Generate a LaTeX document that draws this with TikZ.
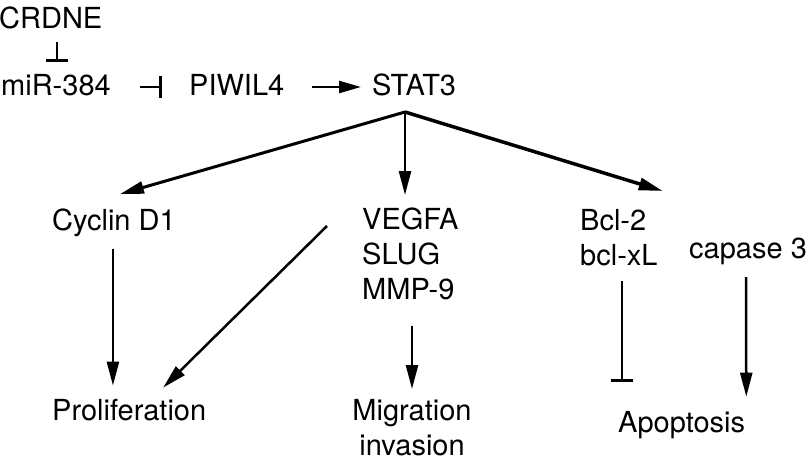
\documentclass[tikz,border=0pt]{standalone}
\usepackage{fontspec}
\setmainfont{TeX Gyre Heros}
\usetikzlibrary{arrows.meta,calc}

\begin{document}
\begin{tikzpicture}[x=1pt,y=-1pt,
	lbl/.style={inner sep=0pt,font=\fontsize{29}{35}\selectfont},
	act/.style={line width=2.5pt,-{Triangle[length=24pt,width=12pt]}},
	inh/.style={line width=2.5pt,-{Bar[width=22pt,line width=3pt]}}]
	\useasboundingbox (0,0) rectangle (811,463);
	% top row
	\node[lbl,anchor=base west] (crdne) at (-1,28) {CRDNE};
	\node[lbl,anchor=base west] (mir) at (1,95) {miR-384};
	\node[lbl,anchor=base west] (piwil) at (189,95) {PIWIL4};
	\node[lbl,anchor=base west] (stat) at (372,95) {STAT3};
	% targets
	\node[lbl,anchor=base west] (cyc) at (52,230) {Cyclin D1};
	\node[lbl,anchor=north west,align=left] (veg) at (362,208) {VEGFA\\SLUG\\MMP-9};
	\node[lbl,anchor=north west,align=left] (bcl) at (580,209) {Bcl-2\\bcl-xL};
	\node[lbl,anchor=base west] (cap) at (689,258) {capase 3};
	% outcomes
	\node[lbl,anchor=base west] (pro) at (52,420) {Proliferation};
	\node[lbl,anchor=north,align=center] (mig) at (412,399) {Migration\\invasion};
	\node[lbl,anchor=base west] (apo) at (618,432) {Apoptosis};
	\coordinate (hub) at ($(stat.base west)+(33,17)$);
	\draw[inh] ($(crdne.base west)+(58,14)$) -- ($(mir.base west)+(56,-33)$);
	\draw[inh] ($(mir.base east)+(29,-8)$) -- ($(piwil.base west)+(-27,-8)$);
	\draw[line width=2.5pt,-{Triangle[length=22pt,width=12pt]}] ($(piwil.base east)+(28,-8)$) -- ($(stat.base west)+(-11,-8)$);
	\draw[act,line width=3pt] (hub) -- ($(cyc.north)+(6,-14)$);
	\draw[act] (hub) -- ($(hub |- veg.north)+(0,-13)$);
	\draw[act,line width=3.5pt] (hub) -- ($(bcl.north east)+(5,-18)$);
	\draw[act] ($(cyc.base)+(-1,19)$) -- ($(cyc.base |- pro.north)+(-1,-13)$);
	\draw[act] ($(veg.north west)+(-35,18)$) -- ($(pro.north)+(34,-11)$);
	\draw[act] ($(veg.north west)+(50,118)$) -- ($(mig.north)+(0,-10)$);
	\draw[inh] ($(bcl.north west)+(42,72)$) -- ($(apo.north west)+(4,-29)$);
	\draw[act] ($(cap.base west)+(57,19)$) -- ($(apo.north east)+(1,-14)$);
\end{tikzpicture}
\end{document}
